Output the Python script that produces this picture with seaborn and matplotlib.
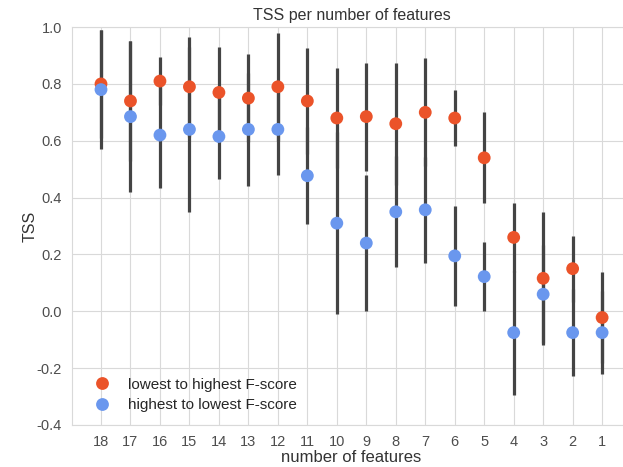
# plot.py
import seaborn as sns
import matplotlib.pyplot as plt
import pandas as pd

# number of features, from 18 down to 1
features = [18, 17, 16, 15, 14, 13, 12, 11, 10, 9, 8, 7, 6, 5, 4, 3, 2, 1]

# TSS when features are added from lowest to highest F-score
tss_low_high = [0.80, 0.74, 0.81, 0.79, 0.77, 0.75, 0.79, 0.74, 0.68, 0.685,
                0.66, 0.70, 0.68, 0.54, 0.26, 0.116, 0.15, -0.022]
err_low_high = [0.19, 0.21, 0.085, 0.175, 0.16, 0.155, 0.19, 0.185, 0.175, 0.19,
                0.215, 0.19, 0.10, 0.16, 0.12, 0.234, 0.116, 0.159]

# TSS when features are added from highest to lowest F-score
tss_high_low = [0.78, 0.685, 0.62, 0.64, 0.615, 0.64, 0.64, 0.477, 0.31, 0.24,
                0.35, 0.357, 0.195, 0.122, -0.075, 0.06, -0.075, -0.075]
err_high_low = [0.21, 0.265, 0.185, 0.29, 0.15, 0.20, 0.16, 0.17, 0.32, 0.24,
                0.195, 0.187, 0.175, 0.122, 0.218, 0.173, 0.153, 0.147]

labels = ['lowest to highest F-score', 'highest to lowest F-score']
colors = ['#EB5329', '#6A97EE']

df = pd.DataFrame({
    'features': features * 2,
    'TSS': tss_low_high + tss_high_low,
    'err': err_low_high + err_high_low,
    'order': [labels[0]] * len(features) + [labels[1]] * len(features),
})

sns.set_style('whitegrid', {'axes.edgecolor': '.85', 'grid.color': '.85'})
plt.rcParams['font.family'] = ['Liberation Sans', 'DejaVu Sans']
plt.rcParams['axes.unicode_minus'] = False

fig = plt.figure(figsize=(6.23, 4.67), dpi=100)
ax = fig.add_axes([0.1148, 0.090, 0.899, 0.852])

# error bars drawn underneath the points
ax.errorbar(df['features'], df['TSS'], yerr=df['err'], fmt='none',
            ecolor='#444444', elinewidth=2.3, capsize=0, zorder=2)
sns.scatterplot(data=df, x='features', y='TSS', hue='order', palette=colors,
                s=85, linewidth=0, ax=ax, zorder=3)

ax.set_xlim(19, 0)
ax.set_ylim(-0.4, 1.0)
ax.set_xticks(features)
ax.set_xticklabels([str(f) for f in features])
ax.set_yticks([-0.4, -0.2, 0.0, 0.2, 0.4, 0.6, 0.8, 1.0])
ax.tick_params(labelsize=10.5, colors='.3', pad=3.5)

ax.set_title('TSS per number of features', fontsize=11.5, color='.2', pad=5)
ax.set_xlabel('number of features', fontsize=12, color='.2', labelpad=1)
ax.set_ylabel('TSS', fontsize=11.5, color='.2', labelpad=-1)

ax.legend(loc='lower left', frameon=False, fontsize=11, handletextpad=0.65,
          labelspacing=0.45, borderaxespad=0, bbox_to_anchor=(0.017, 0.016))

fig.savefig('out.png', dpi=100)
